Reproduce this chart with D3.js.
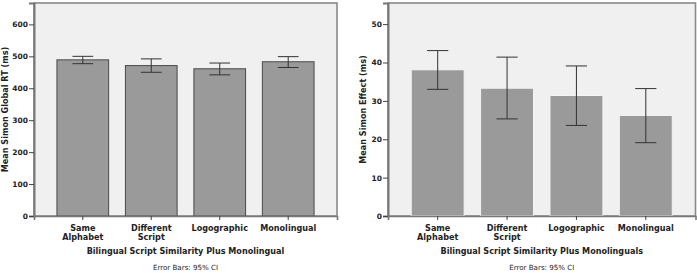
<!DOCTYPE html>
<html>
<head>
<meta charset="utf-8">
<script src="https://cdn.jsdelivr.net/npm/d3@7"></script>
<style>
  body { margin: 0; background: #fff; }
  text { font-family: "DejaVu Sans", sans-serif; fill: #222; }
</style>
</head>
<body>
<div id="plot"></div>
<script>
const categories = [["Same", "Alphabet"], ["Different", "Script"], ["Logographic"], ["Monolingual"]];

// left panel: global RT
const rtMeans = [489, 471, 461, 483];
const rtLow = [477, 450, 442, 465];
const rtHigh = [500, 492, 479, 499];
const rtTicks = [0, 100, 200, 300, 400, 500, 600];

// right panel: Simon effect
const effMeans = [38.1, 33.3, 31.4, 26.2];
const effLow = [33.0, 25.3, 23.6, 19.1];
const effHigh = [43.1, 41.4, 39.1, 33.2];
const effTicks = [0, 10, 20, 30, 40, 50];

const w = 697;
const h = 273;

const svg = d3.select("#plot")
              .append("svg")
              .attr("width", w)
              .attr("height", h);

function constructPlot(opt){
  const left = opt.left, right = opt.right, top = 3, bottom = 216;

  const xScale = d3.scaleBand()
                   .domain(d3.range(categories.length))
                   .range([left, right])
                   .paddingInner(opt.inner)
                   .paddingOuter(0.335);

  const yScale = d3.scaleLinear()
                   .domain([0, opt.max])
                   .range([bottom, top]);

  const g = svg.append("g");

  // plot background + frame
  g.append("rect")
     .attr("x", left)
     .attr("y", top)
     .attr("width", right - left)
     .attr("height", bottom - top)
     .attr("fill", "#f0f0f0")
     .attr("stroke", "#8a8a8a")
     .attr("stroke-width", 1.6);

  //-----------------bars-----------------------
  g.selectAll(".bar")
     .data(opt.means)
     .enter()
     .append("rect")
       .attr("class", "bar")
       .attr("x", (d, i) => xScale(i))
       .attr("y", d => yScale(d))
       .attr("width", xScale.bandwidth())
       .attr("height", d => bottom - yScale(d))
       .attr("fill", "#9a9a9a")
       .attr("stroke", opt.barStroke)
       .attr("stroke-width", 1);

  //-----------------error bars-----------------
  const cap = xScale.bandwidth() * 0.2;
  opt.means.forEach((m, i) => {
    const cx = xScale(i) + xScale.bandwidth() / 2;
    const y1 = yScale(opt.high[i]), y0 = yScale(opt.low[i]);
    g.append("line").attr("x1", cx).attr("x2", cx).attr("y1", y1).attr("y2", y0)
       .attr("stroke", "#333").attr("stroke-width", 1);
    g.append("line").attr("x1", cx - cap).attr("x2", cx + cap).attr("y1", y1).attr("y2", y1)
       .attr("stroke", "#333").attr("stroke-width", 1);
    g.append("line").attr("x1", cx - cap).attr("x2", cx + cap).attr("y1", y0).attr("y2", y0)
       .attr("stroke", "#333").attr("stroke-width", 1);
  });

  //-----------------axes-----------------------
  const yAxis = d3.axisLeft(yScale)
                  .tickValues(opt.ticks)
                  .tickSize(opt.tickLen)
                  .tickPadding(1);
  const ya = g.append("g")
     .attr("transform", "translate(" + left + ",0)")
     .call(yAxis);
  ya.select(".domain").attr("stroke", "#777").attr("stroke-width", 2);
  ya.selectAll(".tick line").attr("stroke", "#444");
  ya.selectAll(".tick text")
     .style("font-family", "'DejaVu Sans', sans-serif")
     .style("font-size", "7.5px")
     .style("font-weight", "bold")
     .attr("fill", "#333");

  const xAxis = d3.axisBottom(xScale).tickSize(4).tickFormat("");
  const xa = g.append("g")
     .attr("transform", "translate(0," + bottom + ")")
     .call(xAxis);
  xa.select(".domain").attr("stroke", "#777").attr("stroke-width", 1.6);
  xa.selectAll(".tick line").attr("stroke", "#444");

  // category labels (one or two lines)
  categories.forEach((c, i) => {
    const t = g.append("text")
       .attr("x", xScale(i) + xScale.bandwidth() / 2)
       .attr("y", 231)
       .attr("text-anchor", "middle")
       .style("font-size", "8.1px")
       .style("font-weight", "bold");
    c.forEach((line, k) => {
      t.append("tspan")
         .attr("x", xScale(i) + xScale.bandwidth() / 2)
         .attr("dy", k === 0 ? 0 : 9)
         .text(line);
    });
  });

  const mid = (left + right) / 2;
  g.append("text")
     .attr("x", mid)
     .attr("y", 254)
     .attr("text-anchor", "middle")
     .style("font-size", "8.1px")
     .style("font-weight", "bold")
     .text(opt.xLabel);

  g.append("text")
     .attr("x", mid)
     .attr("y", 270)
     .attr("text-anchor", "middle")
     .style("font-size", "7.1px")
     .text("Error Bars: 95% CI");

  g.append("text")
     .attr("transform", "translate(" + opt.yLabelX + "," + ((top + bottom) / 2) + ") rotate(-90)")
     .attr("text-anchor", "middle")
     .style("font-size", "8.1px")
     .style("font-weight", "bold")
     .text(opt.yLabel);
}

constructPlot({
  left: 34, right: 337, max: 667, inner: 0.245,
  means: rtMeans, low: rtLow, high: rtHigh, ticks: rtTicks, tickLen: 5,
  barStroke: "#4a4a4a",
  xLabel: "Bilingual Script Similarity Plus Monolingual",
  yLabel: "Mean Simon Global RT (ms)", yLabelX: 8
});

constructPlot({
  left: 388, right: 695.5, max: 55.5, inner: 0.237,
  means: effMeans, low: effLow, high: effHigh, ticks: effTicks, tickLen: 5,
  barStroke: "#f4f4f4",
  xLabel: "Bilingual Script Similarity Plus Monolinguals",
  yLabel: "Mean Simon Effect (ms)", yLabelX: 366
});
</script>
</body>
</html>
